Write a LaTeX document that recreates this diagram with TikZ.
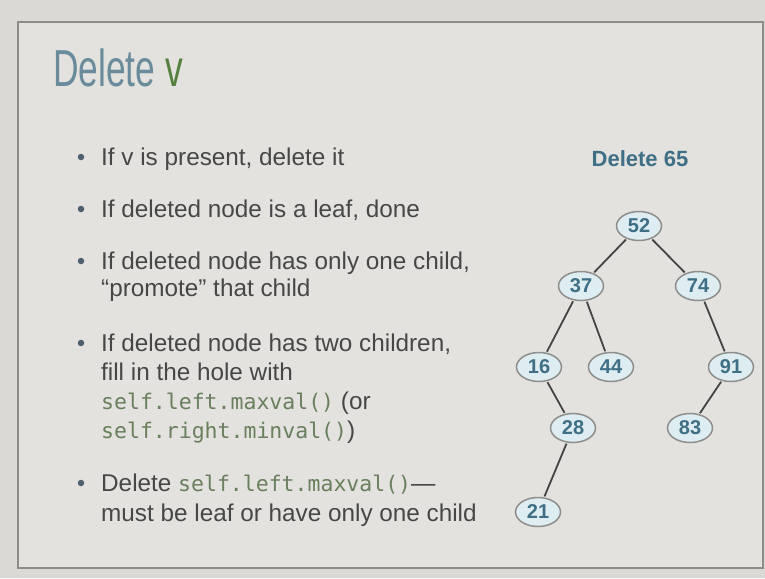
\documentclass[tikz,border=0pt]{standalone}
\usepackage{fontspec}
\setmainfont{Liberation Sans}
\newfontfamily\codefont{DejaVu Sans Mono}
\newfontfamily\titlefont[FakeStretch=0.68]{Liberation Sans}
\usetikzlibrary{shapes.geometric}
\definecolor{outerbg}{HTML}{DAD9D5}
\definecolor{innerbg}{HTML}{E3E2DE}
\definecolor{framec}{HTML}{8C8C88}
\definecolor{titleblue}{HTML}{6A8B9C}
\definecolor{titlegreen}{HTML}{55803F}
\definecolor{bodytext}{HTML}{474747}
\definecolor{codegreen}{HTML}{6A7F5E}
\definecolor{bulletc}{HTML}{4E5F70}
\definecolor{nodetext}{HTML}{3F6F85}
\definecolor{nodefill}{HTML}{DDEDF2}
\definecolor{nodeborder}{HTML}{8E8E8C}
\definecolor{edgec}{HTML}{444444}
\newcommand{\cd}[1]{{\codefont\fontsize{21.5}{25}\selectfont\color{codegreen}#1}}
\tikzset{
  txt/.style={anchor=base west, inner sep=0pt, text=bodytext, font=\fontsize{24.3}{28}\selectfont},
  bul/.style={circle, fill=bulletc, inner sep=0pt, minimum size=6.5pt},
  tnode/.style={ellipse, draw=nodeborder, line width=1.5pt, fill=nodefill, minimum width=45pt, minimum height=29pt, inner sep=0pt, text=nodetext, font=\fontsize{20}{22}\selectfont\bfseries},
  edge/.style={draw=edgec, line width=1.8pt, shorten <=1pt, shorten >=1pt}
}
\begin{document}
\begin{tikzpicture}[x=1pt,y=-1pt]
\useasboundingbox (0,0) rectangle (765,578);
\fill[outerbg] (0,0) rectangle (765,578);
\filldraw[fill=innerbg, draw=framec, line width=1.5pt] (18,22) rectangle (763,568);
% title
\node[anchor=base west, inner sep=0pt, font=\titlefont\fontsize{52}{56}\selectfont] (title) at (53,86) {\color{titleblue}Delete \color{titlegreen}v};
% bullets
\node[bul] (b1) at (81,157) {};
\node[txt] (t1) at (101,165) {If v is present, delete it};
\node[bul] (b2) at (81,209) {};
\node[txt] (t2) at (101,217) {If deleted node is a leaf, done};
\node[bul] (b3) at (81,261) {};
\node[txt] (t3a) at (101,269) {If deleted node has only one child,};
\node[txt] (t3b) at (101,296) {“promote” that child};
\node[bul] (b4) at (81,343) {};
\node[txt] (t4a) at (101,351) {If deleted node has two children,};
\node[txt] (t4b) at (101,380) {fill in the hole with};
\node[txt] (t4c) at (101,409) {\cd{self.left.maxval()} (or};
\node[txt] (t4d) at (101,438) {\cd{self.right.minval()})};
\node[bul] (b5) at (81,483) {};
\node[txt] (t5a) at (101,491) {Delete \cd{self.left.maxval()}—};
\node[txt] (t5b) at (101,521) {must be leaf or have only one child};
% tree
\node[font=\fontsize{22}{24}\selectfont\bfseries, text=nodetext, inner sep=0pt] (lbl) at (640,159) {Delete 65};
\node[tnode] (n52) at (639,226) {52};
\node[tnode] (n37) at (581,286) {37};
\node[tnode] (n74) at (698,286) {74};
\node[tnode] (n16) at (539,367) {16};
\node[tnode] (n44) at (611,367) {44};
\node[tnode] (n91) at (731,367) {91};
\node[tnode] (n28) at (573,428) {28};
\node[tnode] (n83) at (690,428) {83};
\node[tnode] (n21) at (538,512) {21};
\draw[edge] (n52) -- (n37);
\draw[edge] (n52) -- (n74);
\draw[edge] (n37) -- (n16);
\draw[edge] (n37) -- (n44);
\draw[edge] (n74) -- (n91);
\draw[edge] (n16) -- (n28);
\draw[edge] (n91) -- (n83);
\draw[edge] (n28) -- (n21);
\end{tikzpicture}
\end{document}
